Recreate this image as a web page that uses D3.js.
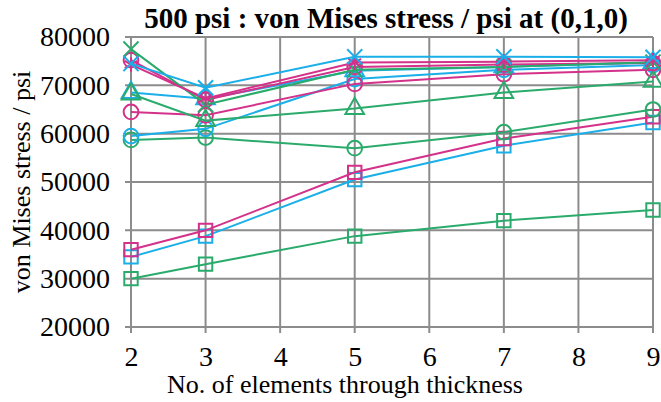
<!DOCTYPE html>
<html>
<head>
<meta charset="utf-8">
<script src="https://cdn.jsdelivr.net/npm/d3@7"></script>
<style>
  body { margin: 0; background: #fff; }
</style>
</head>
<body>
<div id="chart"></div>
<script>
// elements through thickness
var elements = [2, 3, 5, 7, 9];
var yTicks = [20000, 30000, 40000, 50000, 60000, 70000, 80000];
var xTicks = [2, 3, 4, 5, 6, 7, 8, 9];

// von Mises stress / psi
var blueSquare   = [34500, 38800, 50500, 57500, 62300];
var blueCircle   = [59500, 61000, 71300, 73200, 74200];
var blueTriangle = [68500, 67200, 73000, 73800, 74700];
var blueCross    = [74500, 69500, 75900, 75900, 75800];

var pinkSquare   = [36000, 40000, 52000, 59000, 63500];
var pinkCircle   = [64500, 63800, 70300, 72300, 73200];
var pinkCircle2  = [75200, 67000, 73800, 74300, 74600];
var pinkStar     = [74300, 67300, 74700, 74900, 75200];

var greenSquare   = [30000, 33000, 38800, 42000, 44200];
var greenCircle   = [58700, 59200, 57000, 60300, 65000];
var greenTriangle = [68200, 62700, 65200, 68500, 70800];
var greenCross    = [77500, 66000, 73200, 73800, 74800];

var blue = "#1aafe8", pink = "#d4318a", green = "#2aab6c";
var serif = "'Liberation Serif', 'Times New Roman', serif";

var series = [
    {v: greenSquare, c: green, m: "square"},
    {v: blueSquare, c: blue, m: "square"},
    {v: pinkSquare, c: pink, m: "square"},
    {v: greenCircle, c: green, m: "circle"},
    {v: blueCircle, c: blue, m: "circle"},
    {v: pinkCircle, c: pink, m: "circle"},
    {v: blueTriangle, c: blue, m: "triangle"},
    {v: greenTriangle, c: green, m: "triangle"},
    {v: pinkCircle2, c: pink, m: "circle"},
    {v: greenCross, c: green, m: "cross"},
    {v: pinkStar, c: pink, m: "star"},
    {v: blueCross, c: blue, m: "cross"}
];

var width = 661, height = 402;
var margin = {left: 131, right: 8, top: 37, bottom: 75};

var svg = d3.select("#chart").append("svg")
    .attr("width", width)
    .attr("height", height);

var x = d3.scaleLinear().domain([2, 9]).range([margin.left, width - margin.right]);
var y = d3.scaleLinear().domain([20000, 80000]).range([height - margin.bottom, margin.top]);

// grid
var grid = svg.append("g").attr("stroke", "#8c8c8c").attr("stroke-width", 2);
grid.selectAll("line.h").data(yTicks).enter().append("line")
    .attr("x1", x(2) - 6).attr("x2", x(9))
    .attr("y1", function(d) { return y(d); })
    .attr("y2", function(d) { return y(d); });
grid.selectAll("line.v").data(xTicks).enter().append("line")
    .attr("x1", function(d) { return x(d); })
    .attr("x2", function(d) { return x(d); })
    .attr("y1", y(80000)).attr("y2", y(20000) + 6);

// axes labels
var xAxis = d3.axisBottom(x).tickValues(xTicks).tickSize(0).tickPadding(19).tickFormat(d3.format("d"));
var gx = svg.append("g").attr("transform", "translate(0," + y(20000) + ")").call(xAxis);
gx.select(".domain").remove();
gx.attr("font-family", serif).attr("font-size", 28);
gx.selectAll("text").attr("fill", "#000").attr("dy", "0.71em");

var yAxis = d3.axisLeft(y).tickValues(yTicks).tickSize(0).tickPadding(21).tickFormat(d3.format("d"));
var gy = svg.append("g").attr("transform", "translate(" + x(2) + ",0)").call(yAxis);
gy.select(".domain").remove();
gy.attr("font-family", serif).attr("font-size", 28);
gy.selectAll("text").attr("fill", "#000");

svg.append("text")
    .attr("x", 386).attr("y", 28)
    .attr("text-anchor", "middle")
    .attr("font-family", serif)
    .attr("font-size", 29).attr("font-weight", "bold")
    .text("500 psi : von Mises stress / psi at (0,1,0)");

svg.append("text")
    .attr("x", 345).attr("y", 393)
    .attr("text-anchor", "middle")
    .attr("font-family", serif)
    .attr("font-size", 26)
    .text("No. of elements through thickness");

svg.append("text")
    .attr("transform", "translate(30," + ((y(20000) + y(80000)) / 2) + ") rotate(-90)")
    .attr("text-anchor", "middle")
    .attr("font-family", serif)
    .attr("font-size", 26)
    .text("von Mises stress / psi");

// lines + markers
var line = d3.line()
    .x(function(d, i) { return x(elements[i]); })
    .y(function(d) { return y(d); });

var symbols = {
    square: d3.symbolSquare,
    circle: d3.symbolCircle,
    triangle: d3.symbolTriangle,
    cross: d3.symbolTimes,
    star: d3.symbolAsterisk
};
var sizes = {square: 180, circle: 170, triangle: 150, cross: 150, star: 150};

series.forEach(function(s) {
    var g = svg.append("g");
    g.append("path")
        .attr("d", line(s.v))
        .attr("fill", "none")
        .attr("stroke", s.c)
        .attr("stroke-width", 2);
    g.selectAll("path.m").data(s.v).enter().append("path")
        .attr("class", "m")
        .attr("transform", function(d, i) { return "translate(" + x(elements[i]) + "," + y(d) + ")"; })
        .attr("d", d3.symbol().type(symbols[s.m]).size(sizes[s.m]))
        .attr("fill", "none")
        .attr("stroke", s.c)
        .attr("stroke-width", 2);
});
</script>
</body>
</html>
